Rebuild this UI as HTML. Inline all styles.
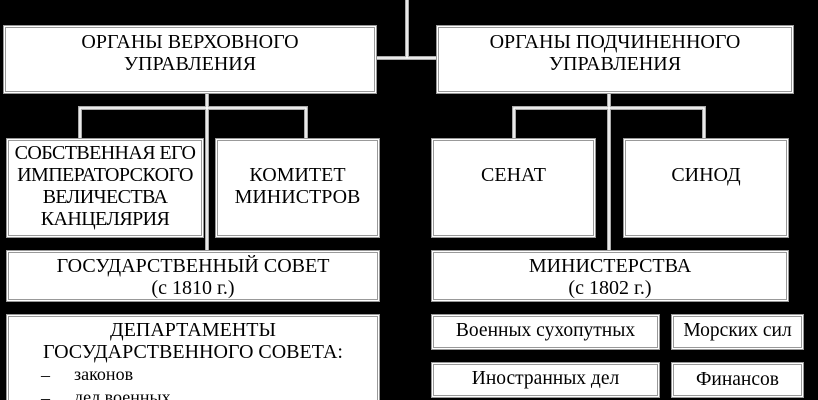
<!DOCTYPE html>
<html><head><meta charset="utf-8"><style>
html,body{margin:0;width:818px;height:400px;overflow:hidden}
body{background:#000;position:relative;font-family:"Liberation Serif","DejaVu Serif",serif;color:#000}
.b{position:absolute;background:#fff;border:1px solid #999;box-shadow:0 0 0 1px #fff,0 0 0 2px #999;box-sizing:border-box;text-align:center;font-size:20px;line-height:22px;white-space:nowrap}
.s{font-size:19.5px;line-height:22px}
svg{position:absolute;left:0;top:0}
</style></head><body>
<svg width="818" height="400">
<g stroke="#aaa" stroke-width="4" fill="none">
<path d="M407 0V58M375 58H438M207 92V252M80 140V108H306V140M609 92V252M514 140V108H704V140"/>
</g>
<g stroke="#fff" stroke-width="1.5" fill="none">
<path d="M407 0V58M375 58H438M207 92V252M80 140V108H306V140M609 92V252M514 140V108H704V140"/>
</g>
</svg>
<div class="b" style="left:5px;top:27px;width:370px;height:65px;padding-top:3px">ОРГАНЫ ВЕРХОВНОГО<br>УПРАВЛЕНИЯ</div>
<div class="b" style="left:438px;top:27px;width:354px;height:65px;padding-top:3px">ОРГАНЫ ПОДЧИНЕННОГО<br>УПРАВЛЕНИЯ</div>
<div class="b" style="left:8px;top:140px;width:194px;height:96px;padding-top:1px;letter-spacing:-0.6px">СОБСТВЕННАЯ ЕГО<br>ИМПЕРАТОРСКОГО<br>ВЕЛИЧЕСТВА<br>КАНЦЕЛЯРИЯ</div>
<div class="b" style="left:217px;top:140px;width:161px;height:96px;padding-top:23px">КОМИТЕТ<br>МИНИСТРОВ</div>
<div class="b" style="left:433px;top:140px;width:161px;height:96px;padding-top:23px">СЕНАТ</div>
<div class="b" style="left:625px;top:140px;width:162px;height:96px;padding-top:23px">СИНОД</div>
<div class="b" style="left:8px;top:252px;width:370px;height:48px;padding-top:2px">ГОСУДАРСТВЕННЫЙ СОВЕТ<br>(с 1810 г.)</div>
<div class="b" style="left:433px;top:252px;width:354px;height:48px;padding-top:2px">МИНИСТЕРСТВА<br>(с 1802 г.)</div>
<div class="b" style="left:8px;top:316px;width:370px;height:100px;padding-top:2px">ДЕПАРТАМЕНТЫ<br>ГОСУДАРСТВЕННОГО СОВЕТА:
<div style="position:absolute;left:32px;top:47px;text-align:left;font-size:18px;line-height:23px">–<br>–</div>
<div style="position:absolute;left:65px;top:46px;text-align:left;font-size:18px;line-height:23px">законов<br>дел военных</div></div>
<div class="b s" style="left:433px;top:316px;width:225px;height:32px;padding-top:3px">Военных сухопутных</div>
<div class="b s" style="left:673px;top:316px;width:129px;height:32px;padding-top:3px">Морских сил</div>
<div class="b s" style="left:433px;top:364px;width:225px;height:32px;padding-top:3px">Иностранных дел</div>
<div class="b s" style="left:673px;top:364px;width:129px;height:32px;padding-top:4px">Финансов</div>
</body></html>
